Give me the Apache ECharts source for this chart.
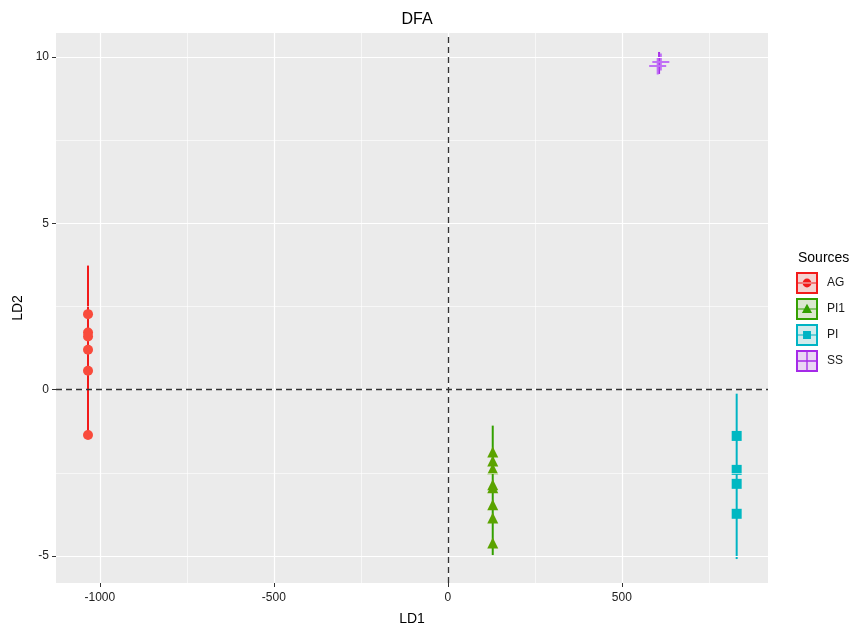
<!DOCTYPE html>
<html>
<head>
<meta charset="utf-8">
<script src="https://cdn.jsdelivr.net/npm/echarts@6/dist/echarts.min.js"></script>
<style>html,body{margin:0;padding:0;background:#fff}#c{width:857px;height:627px}</style>
</head>
<body>
<div id="c"></div>
<script>
// ---- data ----
const groups = ['AG', 'PI1', 'PI', 'SS'];
const agX = [-1034, -1034, -1034, -1034, -1034, -1034];
const agY = [2.27, 1.72, 1.60, 1.20, 0.57, -1.36];
const pi1X = [129, 129, 129, 129, 129, 129, 129, 129];
const pi1Y = [-1.87, -2.14, -2.38, -2.86, -2.95, -3.46, -3.86, -4.61];
const piX = [830, 830, 830, 830];
const piY = [-1.39, -2.41, -2.83, -3.73];
const ssX = [612, 603];
const ssY = [9.85, 9.73];
// vertical range lines: [x, low, high]
const agRange = [-1034, -1.36, 3.73];
const pi1Range = [129, -4.97, -1.08];
const piRange = [830, -5.09, -0.12];
const ssRange = [607, 9.49, 10.15];
const xTicks = [-1000, -500, 0, 500];
const xMinor = [-750, -250, 250, 750];
const yTicks = [-5, 0, 5, 10];
const yMinor = [-2.5, 2.5, 7.5];

const pointCol = {AG: '#F94B3C', PI1: '#5BA300', PI: '#00B8C2', SS: '#C070F5'};
const lineCol = {AG: '#F21A1A', PI1: '#33A000', PI: '#00B4C4', SS: '#A52AE8'};
const tint = {AG: '#F4D3D1', PI1: '#DCE7D0', PI: '#D2EBEC', SS: '#EAD6F4'};

const zip = (xs, ys) => xs.map((x, i) => [x, ys[i]]);
const ring = 'M0,0H100V100H0Z M9,9V91H91V9Z ';
const bar = 'M9,48H91V52H9Z ';
const icons = {
  AG: 'path://' + ring + bar + 'M30,50A20,20 0 1,0 70,50A20,20 0 1,0 30,50Z',
  PI1: 'path://' + ring + bar + 'M50,26L73,68H27Z',
  PI: 'path://' + ring + bar + 'M32,32H68V68H32Z',
  SS: 'path://' + ring + 'M47,9H53V91H47Z M9,47H91V53H9Z'
};
const plusPath = 'path://M44,0H56V100H44Z M0,44H100V56H0Z';

const font = '"Liberation Sans", Arial, sans-serif';
const chart = echarts.init(document.getElementById('c'), null, {renderer: 'canvas'});

function rangeSeries(name, r) {
  return {
    type: 'line', name: name + ' range', z: 3, silent: true,
    data: [[r[0], r[1]], [r[0], r[2]]],
    showSymbol: false, symbol: 'none',
    lineStyle: {color: lineCol[name], width: 2}
  };
}
function pointSeries(name, data, symbol, size) {
  return {
    type: 'scatter', name: name, z: 4, data: data,
    symbol: symbol, symbolSize: size,
    itemStyle: {color: pointCol[name], opacity: 1}
  };
}
const gridLine = (w) => ({color: '#FFFFFF', width: w, type: 'solid'});

const option = {
  animation: false,
  textStyle: {fontFamily: font},
  title: [
    {text: 'DFA', left: 412, top: 7, textAlign: 'center',
     textStyle: {fontFamily: font, fontSize: 16, fontWeight: 'normal', color: '#000'}},
    {text: 'Sources', left: 793, top: 246,
     textStyle: {fontFamily: font, fontSize: 14, fontWeight: 'normal', color: '#000'}}
  ],
  grid: {left: 56, right: 89, top: 33, bottom: 44, show: true, containLabel: false,
         outerBoundsMode: 'none',
         backgroundColor: '#EBEBEB', borderWidth: 0},
  xAxis: {
    type: 'value', min: -1126, max: 920,
    name: 'LD1', nameLocation: 'middle', nameGap: 29,
    nameTextStyle: {fontFamily: font, fontSize: 14, color: '#000'},
    axisLine: {show: true, onZero: false, lineStyle: {color: '#EBEBEB', width: 0.01, opacity: 0}},
    axisTick: {show: true, length: 4, customValues: xTicks, lineStyle: {color: '#333', width: 1}},
    axisLabel: {customValues: xTicks, margin: 9, fontSize: 12, color: '#222', fontFamily: font,
                formatter: v => String(v)},
    splitLine: {show: false}
  },
  yAxis: {
    type: 'value', min: -5.81, max: 10.72,
    name: 'LD2', nameLocation: 'middle', nameGap: 30,
    nameTextStyle: {fontFamily: font, fontSize: 14, color: '#000'},
    axisLine: {show: true, onZero: false, lineStyle: {color: '#EBEBEB', width: 0.01, opacity: 0}},
    axisTick: {show: true, length: 4, customValues: yTicks, lineStyle: {color: '#333', width: 1}},
    axisLabel: {customValues: yTicks, margin: 7, fontSize: 12, color: '#222', fontFamily: font,
                formatter: v => String(v)},
    splitLine: {show: false}
  },
  legend: [
    {
      orient: 'vertical', left: 796, top: 272, itemWidth: 22, itemHeight: 22, itemGap: 4,
      padding: 0, selectedMode: false, formatter: () => '',
      data: groups.map(g => ({name: g, icon: 'rect', itemStyle: {color: tint[g], borderWidth: 0}}))
    },
    {
      orient: 'vertical', left: 796, top: 272, itemWidth: 22, itemHeight: 22, itemGap: 4,
      padding: 0, selectedMode: false,
      textStyle: {fontFamily: font, fontSize: 12, color: '#1A1A1A', padding: [0, 0, 0, 4]},
      data: groups.map(g => ({name: g, icon: icons[g], itemStyle: {color: lineCol[g], borderWidth: 0}}))
    }
  ],
  series: [
    pointSeries('AG', zip(agX, agY), 'circle', 10),
    pointSeries('PI1', zip(pi1X, pi1Y), 'triangle', 11),
    pointSeries('PI', zip(piX, piY), 'rect', 10),
    pointSeries('SS', zip(ssX, ssY), plusPath, 17),
    rangeSeries('AG', agRange),
    rangeSeries('PI1', pi1Range),
    rangeSeries('PI', piRange),
    rangeSeries('SS', ssRange),
    {
      type: 'line', name: '_grid', z: 1, silent: true, data: [],
      markLine: {
        silent: true, symbol: 'none', label: {show: false}, animation: false,
        data: [
          ...xTicks.map(v => ({xAxis: v, lineStyle: gridLine(1.2)})),
          ...yTicks.map(v => ({yAxis: v, lineStyle: gridLine(1.2)})),
          ...xMinor.map(v => ({xAxis: v, lineStyle: gridLine(0.6)})),
          ...yMinor.map(v => ({yAxis: v, lineStyle: gridLine(0.6)}))
        ]
      }
    },
    {
      type: 'line', name: '_ref', z: 2, silent: true, data: [],
      markLine: {
        silent: true, symbol: 'none', label: {show: false}, animation: false,
        lineStyle: {color: '#333', width: 1.3, type: [6, 4]},
        data: [{xAxis: 0}, {yAxis: 0}]
      }
    }
  ]
};
chart.setOption(option);
</script>
</body>
</html>
